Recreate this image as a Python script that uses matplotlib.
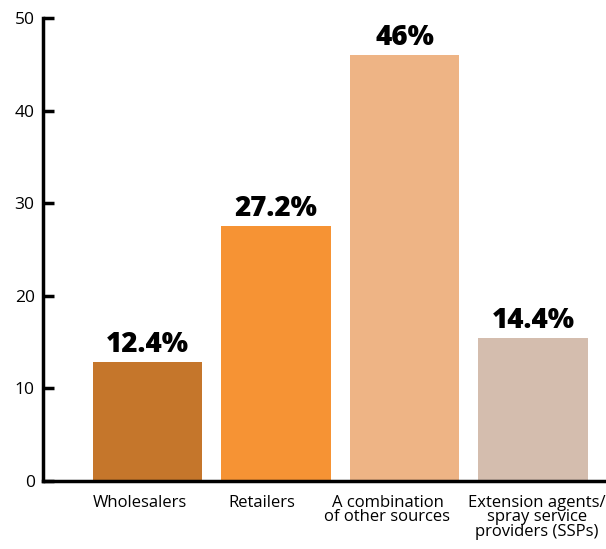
"""Bar chart: sources of information (share of respondents)."""

import matplotlib
matplotlib.use("Agg")
import matplotlib.pyplot as plt
from matplotlib.transforms import ScaledTranslation

categories = [
    "Wholesalers",
    "Retailers",
    "A combination\nof other sources",
    "Extension agents/\nspray service\nproviders (SSPs)",
]
# bar heights as drawn in the picture
bar_heights = [12.8, 27.5, 46.0, 15.4]
value_labels = ["12.4%", "27.2%", "46%", "14.4%"]
bar_colors = ["#C5762B", "#F69334", "#EEB485", "#D4BDAE"]
y_ticks = [0, 10, 20, 30, 40, 50]

# horizontal nudge (pixels) of each category label relative to its bar
label_shift_px = [-7.5, -14, -17, 4]

W, H = 606, 549
fig = plt.figure(figsize=(W / 100, H / 100), dpi=100)
ax = fig.add_axes([43 / W, (H - 481) / H, (W - 43) / W, (481 - 18) / H])

x = list(range(len(categories)))
bars = ax.bar(x, bar_heights, width=0.85, color=bar_colors, zorder=1)

for bar, lab in zip(bars, value_labels):
    ax.text(
        bar.get_x() + bar.get_width() / 2,
        bar.get_height() + 0.35,
        lab,
        ha="center",
        va="bottom",
        fontsize=20,
        fontweight="heavy",
        family="Open Sans",
    )

ax.set_xlim(-0.813, 3.568)
ax.set_ylim(0, 50)
ax.set_yticks(y_ticks)
ax.set_yticklabels([str(t) for t in y_ticks], family="Open Sans", fontsize=12.5)
ax.set_xticks(x)
ax.set_xticklabels(categories, family="Open Sans", fontsize=12, linespacing=0.87, va="top")

ax.tick_params(axis="y", direction="in", length=8, width=2.5, pad=6)
ax.tick_params(axis="x", length=0, pad=10)

for lbl, dx in zip(ax.get_xticklabels(), label_shift_px):
    lbl.set_transform(lbl.get_transform() + ScaledTranslation(dx / 100, 0, fig.dpi_scale_trans))

for side in ["top", "right"]:
    ax.spines[side].set_visible(False)
for side in ["left", "bottom"]:
    ax.spines[side].set_linewidth(2.5)
    ax.spines[side].set_zorder(3)

plt.savefig("out.png", dpi=100)
